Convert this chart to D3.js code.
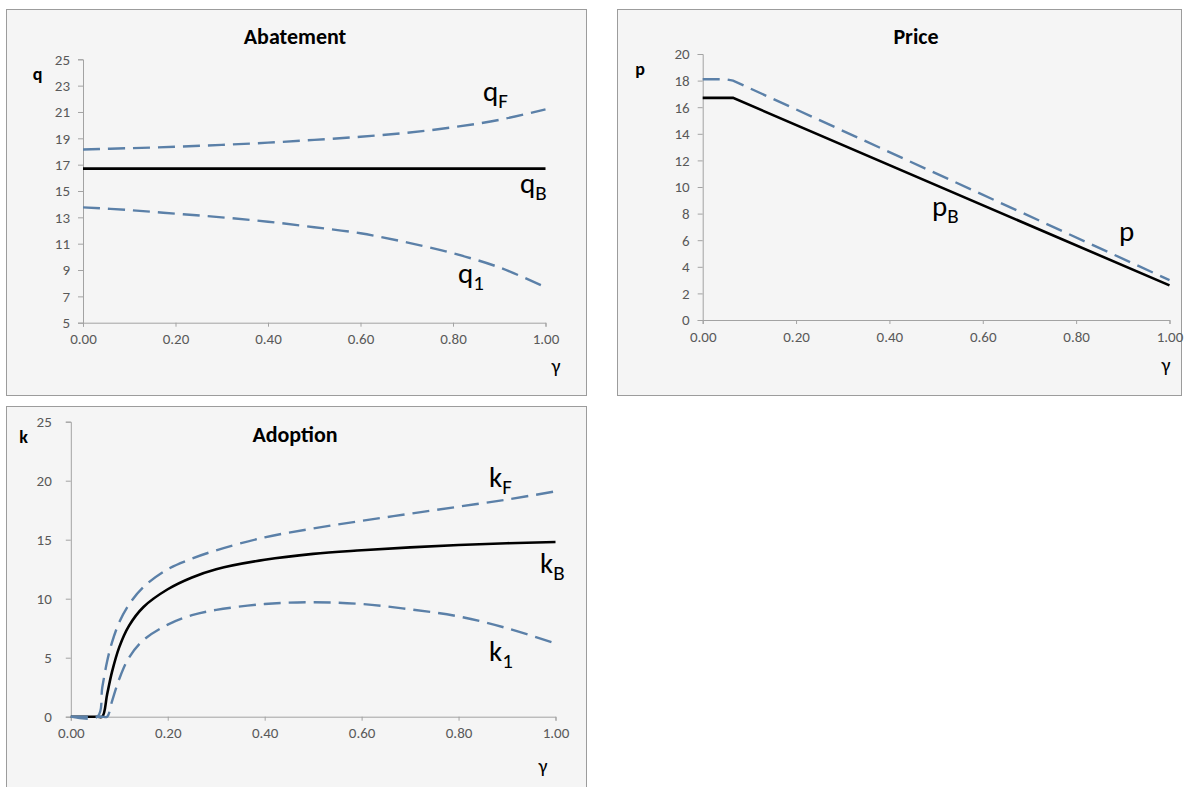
<!DOCTYPE html>
<html>
<head>
<meta charset="utf-8">
<script src="https://cdn.jsdelivr.net/npm/d3@7"></script>
<style>
  html, body { margin: 0; padding: 0; background: #ffffff; }
  svg { display: block; }
  text { font-family: Carlito, Calibri, Lato, "Open Sans", sans-serif; }
</style>
</head>
<body>
<svg id="chart" width="1189" height="787"></svg>
<script>
// ---------- data ----------
const xTicks = [0, 0.2, 0.4, 0.6, 0.8, 1.0];

// Abatement
const gammaQ = [0, 0.1, 0.2, 0.3, 0.4, 0.5, 0.6, 0.7, 0.8, 0.9, 1.0];
const qF = [18.15, 18.25, 18.36, 18.5, 18.67, 18.88, 19.12, 19.42, 19.84, 20.4, 21.2];
const qB = [16.7, 16.7, 16.7, 16.7, 16.7, 16.7, 16.7, 16.7, 16.7, 16.7, 16.7];
const q1 = [13.76, 13.55, 13.28, 13.0, 12.67, 12.25, 11.79, 11.1, 10.27, 9.2, 7.69];
const qTicks = [5, 7, 9, 11, 13, 15, 17, 19, 21, 23, 25];

// Price
const gammaP = [0, 0.05, 0.065, 1.0];
const pF = [18.1, 18.1, 18.0, 3.0];
const pB = [16.7, 16.7, 16.7, 2.6];
const pTicks = [0, 2, 4, 6, 8, 10, 12, 14, 16, 18, 20];

// Adoption
const gammaK = [0, 0.055, 0.065, 0.075, 0.085, 0.1, 0.12, 0.15, 0.2, 0.25, 0.3, 0.4, 0.5, 0.6, 0.7, 0.8, 0.9, 1.0];
const kF = [0, 0, 2.5, 4.7, 6.3, 8.0, 9.5, 11.0, 12.5, 13.4, 14.1, 15.2, 15.95, 16.6, 17.2, 17.8, 18.4, 19.1];
const kB = [0, 0, 0, 1.9, 3.8, 5.9, 7.7, 9.3, 10.8, 11.8, 12.5, 13.3, 13.8, 14.1, 14.35, 14.55, 14.7, 14.8];
const k1 = [0, 0, 0, 0, 1.3, 3.2, 5.0, 6.5, 7.8, 8.6, 9.05, 9.55, 9.7, 9.55, 9.1, 8.5, 7.5, 6.2];
const kTicks = [0, 5, 10, 15, 20, 25];

// ---------- drawing ----------
const svg = d3.select("#chart");
const BLUE = "#5b80a8";
const AXIS = "#a3a3a3";
const TICKTXT = "#595959";

function panel(cfg) {
  const g = svg.append("g");
  g.append("rect")
    .attr("x", cfg.box[0] + 0.5).attr("y", cfg.box[1] + 0.5)
    .attr("width", cfg.box[2] - cfg.box[0]).attr("height", cfg.box[3] - cfg.box[1])
    .attr("fill", "#f5f5f5").attr("stroke", "#9c9c9c").attr("stroke-width", 1);

  const x = d3.scaleLinear().domain([0, 1]).range(cfg.xr);
  const y = d3.scaleLinear().domain(cfg.yd).range(cfg.yr);

  const xAxis = g.append("g").attr("transform", `translate(0,${cfg.yr[0]})`)
    .call(d3.axisBottom(x).tickValues(xTicks).tickFormat(d3.format(".2f")).tickSize(4).tickPadding(cfg.xPad));
  const yAxis = g.append("g").attr("transform", `translate(${cfg.xr[0]},0)`)
    .call(d3.axisLeft(y).tickValues(cfg.yTicks).tickFormat(d3.format("d")).tickSize(5).tickPadding(cfg.yPad));
  [xAxis, yAxis].forEach(a => {
    a.attr("font-size", null).attr("font-family", null);
    a.select(".domain").attr("stroke", AXIS);
    a.selectAll(".tick line").attr("stroke", AXIS);
    a.selectAll(".tick text").attr("fill", TICKTXT)
      .style("font-size", "15px")
      .style("font-family", "Carlito, Calibri, Lato, sans-serif");
  });

  cfg.series.forEach(s => {
    const line = d3.line()
      .x((d, i) => x(cfg.gx[i]))
      .y(d => y(d))
      .curve(cfg.curve);
    g.append("path").datum(s.values)
      .attr("d", line)
      .attr("fill", "none")
      .attr("stroke", s.dashed ? BLUE : "#000000")
      .attr("stroke-width", s.dashed ? 2.4 : 2.6)
      .attr("stroke-dasharray", s.dashed ? "17,8" : null)
      .attr("stroke-linecap", "butt");
  });

  // title
  g.append("text").attr("x", cfg.title[1]).attr("y", cfg.title[2])
    .attr("text-anchor", "middle").attr("font-size", 22).attr("font-weight", "bold")
    .attr("fill", "#000").text(cfg.title[0]);
  // axis letter
  g.append("text").attr("x", cfg.ylab[1]).attr("y", cfg.ylab[2])
    .attr("text-anchor", "middle").attr("font-size", 18).attr("font-weight", "bold")
    .attr("fill", "#000").text(cfg.ylab[0]);
  // gamma
  g.append("text").attr("x", cfg.gam[0]).attr("y", cfg.gam[1])
    .attr("text-anchor", "middle").attr("font-size", 20)
    .attr("fill", "#000").text("γ");
  // curve labels
  cfg.labels.forEach(l => {
    const t = g.append("text").attr("x", l[2]).attr("y", l[3])
      .attr("font-size", 29).attr("fill", "#000");
    t.append("tspan").text(l[0]);
    if (l[1]) t.append("tspan").attr("dy", 7).attr("font-size", 21).text(l[1]);
  });
}

panel({
  box: [6, 9, 586, 395],
  xr: [83, 545.5], yr: [322.7, 59.3], yd: [5, 25], yTicks: qTicks,
  xPad: 7, yPad: 8,
  gx: gammaQ, curve: d3.curveCatmullRom.alpha(0.5),
  series: [
    { values: qB, dashed: false },
    { values: qF, dashed: true },
    { values: q1, dashed: true }
  ],
  title: ["Abatement", 295, 44],
  ylab: ["q", 37.5, 80],
  gam: [556, 373],
  labels: [["q", "F", 483, 101], ["q", "B", 520, 193], ["q", "1", 458, 283]]
});

panel({
  box: [617, 9, 1181, 395],
  xr: [702.7, 1169.5], yr: [320, 54], yd: [0, 20], yTicks: pTicks,
  xPad: 7, yPad: 8,
  gx: gammaP, curve: d3.curveLinear,
  series: [
    { values: pB, dashed: false },
    { values: pF, dashed: true }
  ],
  title: ["Price", 916, 44],
  ylab: ["p", 640, 75],
  gam: [1166, 372],
  labels: [["p", "B", 932, 216], ["p", null, 1119, 241]]
});

panel({
  box: [6, 406, 586, 790],
  xr: [70.8, 555.5], yr: [716.7, 421.7], yd: [0, 25], yTicks: kTicks,
  xPad: 7, yPad: 14,
  gx: gammaK, curve: d3.curveCatmullRom.alpha(0.5),
  series: [
    { values: kB, dashed: false },
    { values: kF, dashed: true },
    { values: k1, dashed: true }
  ],
  title: ["Adoption", 295, 442],
  ylab: ["k", 23.5, 442.7],
  gam: [543, 773],
  labels: [["k", "F", 489, 487], ["k", "B", 540, 573], ["k", "1", 489, 661]]
});
</script>
</body>
</html>
